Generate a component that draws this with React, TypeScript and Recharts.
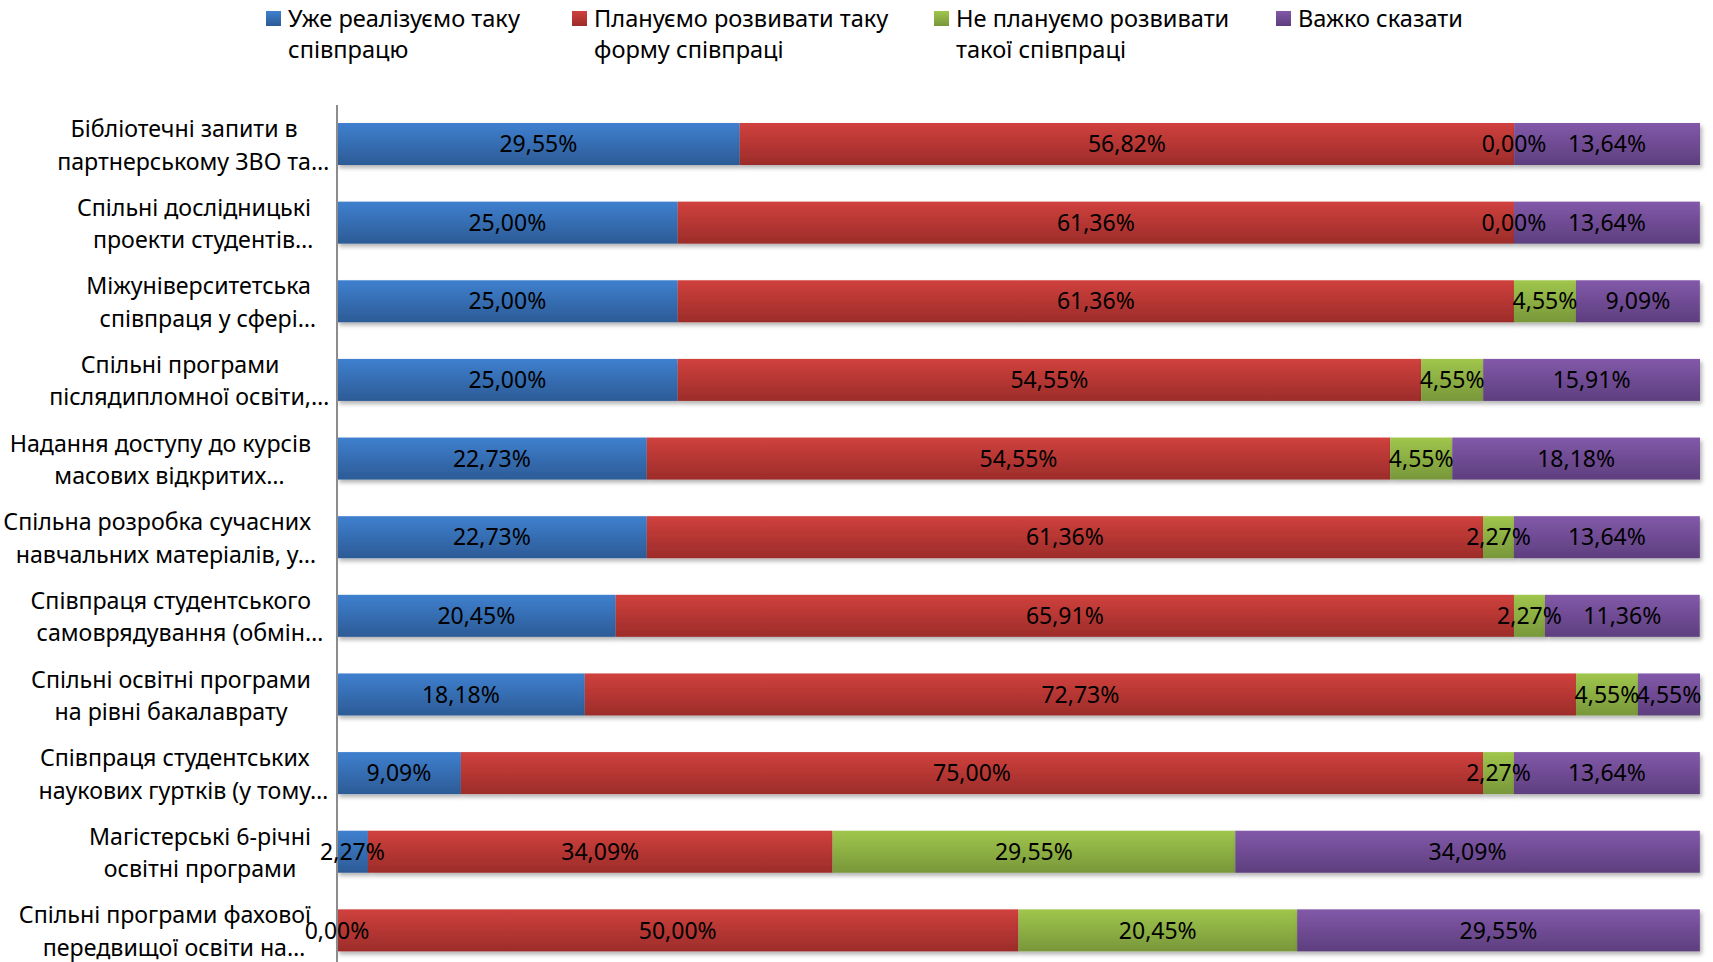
import React from 'react';
import { BarChart, Bar, XAxis, YAxis, Legend, LabelList } from 'recharts';

// categories, top to bottom (line breaks as in the original axis)
const CATEGORIES = [
  'Бібліотечні запити в\nпартнерському ЗВО та…',
  'Спільні дослідницькі\nпроекти студентів…',
  'Міжуніверситетська\nспівпраця у сфері…',
  'Спільні програми\nпіслядипломної освіти,…',
  'Надання доступу до курсів\nмасових відкритих…',
  'Спільна розробка сучасних\nнавчальних матеріалів, у…',
  'Співпраця студентського\nсамоврядування (обмін…',
  'Спільні освітні програми\nна рівні бакалаврату',
  'Співпраця студентських\nнаукових гуртків (у тому…',
  'Магістерські 6-річні\nосвітні програми',
  'Спільні програми фахової\nпередвищої освіти на…',
];

const ALREADY = [29.55, 25.0, 25.0, 25.0, 22.73, 22.73, 20.45, 18.18, 9.09, 2.27, 0.0];
const PLANNED = [56.82, 61.36, 61.36, 54.55, 54.55, 61.36, 65.91, 72.73, 75.0, 34.09, 50.0];
const NOT_PLANNED = [0.0, 0.0, 4.55, 4.55, 4.55, 2.27, 2.27, 4.55, 2.27, 29.55, 20.45];
const HARD_TO_SAY = [13.64, 13.64, 9.09, 15.91, 18.18, 13.64, 11.36, 4.55, 13.64, 34.09, 29.55];

const SERIES = [
  { key: 'already', name: 'Уже реалізуємо таку\nспівпрацю', top: '#3f80cf', bottom: '#2c5b96', values: ALREADY },
  { key: 'planned', name: 'Плануємо розвивати таку\nформу співпраці', top: '#d0413d', bottom: '#9c2c2a', values: PLANNED },
  { key: 'notPlanned', name: 'Не плануємо розвивати\nтакої співпраці', top: '#a0c64c', bottom: '#78973a', values: NOT_PLANNED },
  { key: 'hard', name: 'Важко сказати', top: '#8259a9', bottom: '#5d3e7e', values: HARD_TO_SAY },
];

const FONT = "'Noto Sans', sans-serif";
const LEGEND_WIDTHS = [306, 362, 342, 240];

const data = CATEGORIES.map((c, i) => {
  const row: Record<string, any> = { name: c };
  SERIES.forEach(s => { row[s.key] = s.values[i]; });
  return row;
});

let ctx: CanvasRenderingContext2D | null = null;
const measure = (text: string, size: number) => {
  if (!ctx) ctx = document.createElement('canvas').getContext('2d');
  if (!ctx) return text.length * size * 0.55;
  ctx.font = `${size}px ${FONT}`;
  return ctx.measureText(text).width;
};

const CategoryTick = (props: any) => {
  const { x, y, payload } = props;
  const size = 23.2;
  const lines: string[] = String(payload.value).split('\n');
  // Excel centres the lines in a block; a trailing ellipsis just hangs out
  const widths = lines.map(l => measure(l.replace(/…$/, ''), size));
  const blockW = Math.max(...widths);
  const right = x - 26;
  const center = right - blockW / 2;
  const lh = 32.5;
  return (
    <g>
      {lines.map((l, i) => (
        <text
          key={i}
          x={center - widths[i] / 2}
          y={y + (i - (lines.length - 1) / 2) * lh}
          dominantBaseline="central"
          textAnchor="start"
          fontFamily={FONT}
          fontSize={size}
          fill="#000"
        >
          {l}
        </text>
      ))}
    </g>
  );
};

const GradientBar = (props: any) => {
  const { x, y, width, height, gradId } = props;
  if (!width || width <= 0) return null;
  return <rect x={x} y={y} width={width} height={height} fill={`url(#${gradId})`} filter="url(#barShadow)" />;
};

const fmt = (v: any) => `${Number(v).toFixed(2).replace('.', ',')}%`;

const LegendContent = () => (
  <div style={{ display: 'flex', paddingLeft: 266, fontFamily: FONT, fontSize: 23.6, color: '#000' }}>
    {SERIES.map((s, i) => (
      <div key={s.key} style={{ width: LEGEND_WIDTHS[i], display: 'flex', alignItems: 'flex-start' }}>
        <div
          style={{
            width: 15,
            height: 15,
            marginTop: 11,
            marginRight: 7,
            flex: 'none',
            background: `linear-gradient(${s.top}, ${s.bottom})`,
          }}
        />
        <div style={{ whiteSpace: 'pre-line', lineHeight: '31px', paddingTop: 3 }}>{s.name}</div>
      </div>
    ))}
  </div>
);

export default function App() {
  return (
    <div style={{ position: 'absolute', top: 0, left: 0, background: '#fff' }}>
      <BarChart
        width={1713}
        height={962}
        data={data}
        layout="vertical"
        margin={{ top: 35, right: 13, bottom: -8, left: 0 }}
      >
        <defs>
          {SERIES.map(s => (
            <linearGradient key={s.key} id={`grad-${s.key}`} x1="0" y1="0" x2="0" y2="1">
              <stop offset="0%" stopColor={s.top} />
              <stop offset="100%" stopColor={s.bottom} />
            </linearGradient>
          ))}
          <filter id="barShadow" x="-5%" y="-20%" width="115%" height="160%">
            <feDropShadow dx="2" dy="3" stdDeviation="2" floodColor="#000" floodOpacity="0.3" />
          </filter>
        </defs>
        <Legend
          verticalAlign="top"
          align="left"
          content={<LegendContent />}
          wrapperStyle={{ top: 0, left: 0, width: 1713, height: 70 }}
        />
        <XAxis type="number" domain={[0, 'dataMax']} hide />
        <YAxis
          type="category"
          dataKey="name"
          width={337}
          axisLine={{ stroke: '#8c8c8c', strokeWidth: 2 }}
          tickLine={false}
          tickSize={0}
          tickMargin={0}
          interval={0}
          tick={<CategoryTick />}
        />
        {SERIES.map(s => (
          <Bar
            key={s.key}
            dataKey={s.key}
            name={s.name}
            stackId="a"
            barSize={42}
            isAnimationActive={false}
            shape={(p: any) => <GradientBar {...p} gradId={`grad-${s.key}`} />}
          >
            <LabelList
              dataKey={s.key}
              position="center"
              formatter={fmt}
              style={{ fontFamily: FONT, fontSize: 23, fill: '#000' }}
            />
          </Bar>
        ))}
      </BarChart>
    </div>
  );
}
